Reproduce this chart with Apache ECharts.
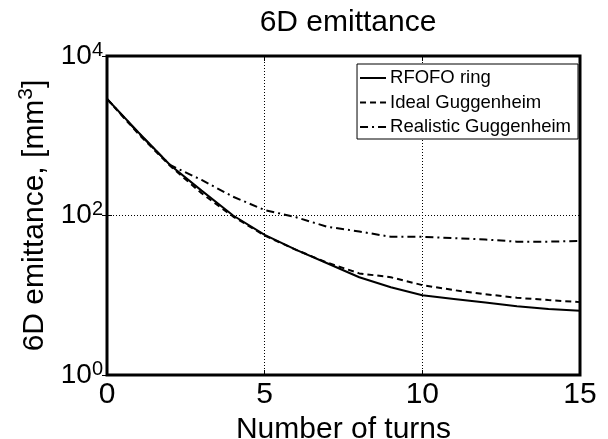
<!DOCTYPE html>
<html>
<head>
<meta charset="utf-8">
<script src="https://cdn.jsdelivr.net/npm/echarts@6/dist/echarts.min.js"></script>
<style>
  html, body { margin: 0; padding: 0; background: #fff; }
  #chart { width: 608px; height: 439px; }
</style>
</head>
<body>
<div id="chart"></div>
<script>
// 数据：圈数与三种方案的6D发射度 (mm^3)
const turns = [0, 1, 2, 3, 4, 5, 6, 7, 8, 9, 10, 11, 12, 13, 14, 15];
const rfofo = [2900, 1100, 430, 205, 100, 57, 37, 25, 16.8, 12.6, 10, 9, 8.1, 7.3, 6.7, 6.4];
const ideal = [2900, 1050, 420, 190, 97, 56, 37, 25.5, 18.8, 16.8, 13.4, 11.6, 10.3, 9.3, 8.7, 8.2];
const realistic = [2900, 1080, 430, 279, 172, 117, 95, 72, 63, 54, 54, 52, 50, 47, 47, 48];
const xTicks = [0, 5, 10, 15];

const font = 'Liberation Sans, Arial, sans-serif';

const pairs = arr => turns.map((t, i) => [t, arr[i]]);

// 上标用的富文本样式
const supStyle = (base, sup, raise) => ({
  fontFamily: font,
  color: '#000',
  rich: {
    b: { fontSize: base, fontFamily: font, color: '#000' },
    s: { fontSize: sup, fontFamily: font, color: '#000', padding: [0, 0, raise, 0] }
  }
});

const chart = echarts.init(document.getElementById('chart'));

const line = (name, data, type) => ({
  name,
  type: 'line',
  data: pairs(data),
  symbol: 'none',
  itemStyle: { color: '#000' },
  lineStyle: { color: '#000', width: 2, type },
  z: 3
});

chart.setOption({
  animation: false,
  backgroundColor: '#fff',
  textStyle: { fontFamily: font, color: '#000' },
  title: {
    text: '6D emittance',
    left: 343,
    top: 3,
    textAlign: 'center',
    textStyle: { fontSize: 30, fontWeight: 'normal', fontFamily: font, color: '#000' }
  },
  legend: {
    orient: 'vertical',
    right: 30,
    top: 64,
    itemWidth: 26,
    itemHeight: 19,
    itemGap: 5.5,
    padding: [4.5, 7, 2.5, 2],
    borderColor: '#000',
    borderWidth: 1,
    backgroundColor: '#fff',
    itemStyle: { opacity: 0 },
    textStyle: { fontSize: 18.5, lineHeight: 19, fontFamily: font, color: '#000', padding: [0, 0, 0, -1] },
    data: ['RFOFO ring', 'Ideal Guggenheim', 'Realistic Guggenheim']
  },
  grid: {
    left: 107,
    top: 56,
    right: 28,
    bottom: 64,
    containLabel: false,
    outerBoundsMode: 'none',
    show: true,
    borderColor: '#000',
    borderWidth: 3,
    backgroundColor: 'transparent'
  },
  xAxis: [
    {
      type: 'value',
      min: 0,
      max: 15,
      interval: 5,
      name: 'Number of turns',
      nameLocation: 'middle',
      nameGap: 31,
      nameTextStyle: { fontSize: 30, fontFamily: font, color: '#000' },
      axisLine: { show: false },
      axisTick: { show: true, inside: true, length: 5, lineStyle: { color: '#000' } },
      axisLabel: {
        fontSize: 30, fontFamily: font, color: '#000', margin: 5,
        formatter: v => (xTicks.indexOf(v) >= 0 ? String(v) : '')
      },
      splitLine: { show: true, lineStyle: { color: '#000', type: [1, 2], width: 1 } }
    },
    {
      type: 'value',
      position: 'top',
      min: 0,
      max: 15,
      interval: 5,
      axisLine: { show: false },
      axisTick: { show: true, inside: true, length: 5, lineStyle: { color: '#000' } },
      axisLabel: { show: false },
      splitLine: { show: false }
    }
  ],
  yAxis: [
    {
      type: 'log',
      logBase: 100,
      min: 1,
      max: 10000,
      name: '{b|6D emittance, [mm}{s|3}{b|]}',
      nameLocation: 'middle',
      nameGap: 52,
      nameRotate: 90,
      nameTextStyle: supStyle(30, 21, 18),
      axisLine: { show: false },
      axisTick: { show: true, inside: true, length: 5, lineStyle: { color: '#000' } },
      axisLabel: Object.assign({
        margin: 4,
        formatter: v => '{b|10}{s|' + Math.round(Math.log10(v)) + '}'
      }, supStyle(28, 20, 12)),
      splitLine: { show: true, lineStyle: { color: '#000', type: [1, 2], width: 1 } }
    },
    {
      type: 'log',
      logBase: 100,
      min: 1,
      max: 10000,
      position: 'right',
      axisLine: { show: false },
      axisTick: { show: true, inside: true, length: 5, lineStyle: { color: '#000' } },
      axisLabel: { show: false },
      splitLine: { show: false }
    }
  ],
  series: [
    line('RFOFO ring', rfofo, 'solid'),
    line('Ideal Guggenheim', ideal, [6, 4]),
    line('Realistic Guggenheim', realistic, [8, 4, 2, 4])
  ]
});
</script>
</body>
</html>
